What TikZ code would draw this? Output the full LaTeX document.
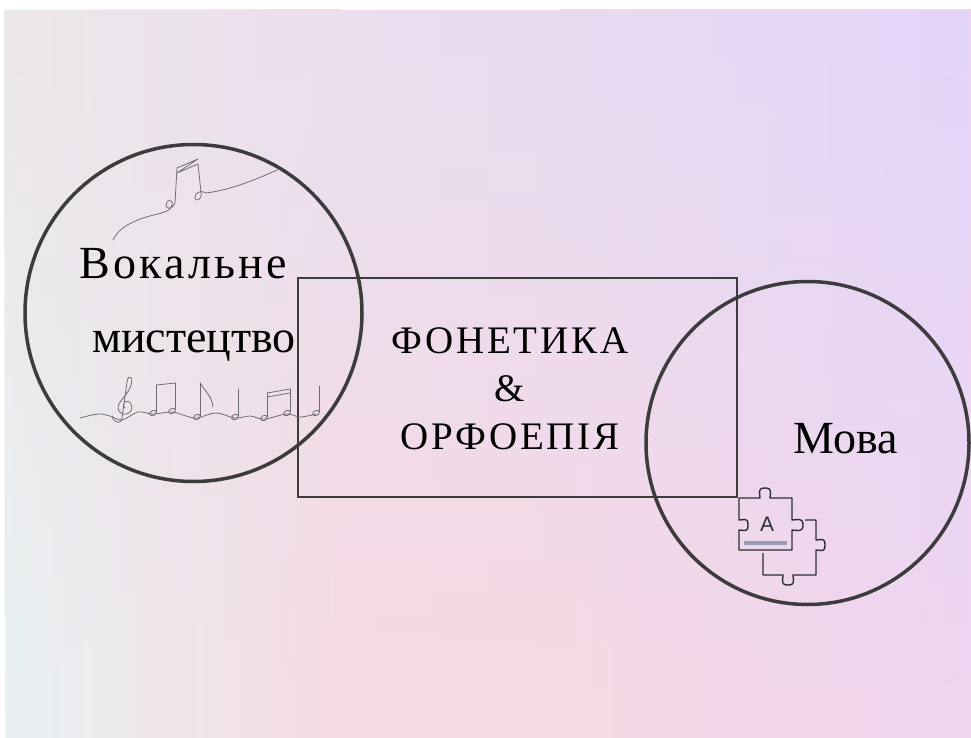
\documentclass[tikz,border=0pt]{standalone}
\usepackage{fontspec}
\setmainfont{Liberation Serif}
\newfontfamily\spacedserif[LetterSpace=7]{Liberation Serif}
\newfontfamily\iconfont{Liberation Sans}
\usetikzlibrary{positioning,fadings}

\definecolor{inkGray}{RGB}{60,60,60}
\definecolor{doodleGray}{RGB}{110,110,114}
\definecolor{puzzleInk}{RGB}{45,45,55}
\definecolor{barBlue}{RGB}{150,155,185}
\definecolor{bgTopLeft}{RGB}{237,230,233}
\definecolor{bgTopMid}{RGB}{236,220,240}
\definecolor{bgTopRight}{RGB}{227,213,250}
\definecolor{bgBottomLeft}{RGB}{232,242,243}
\definecolor{bgBottomMid}{RGB}{247,217,227}
\definecolor{bgBottomRight}{RGB}{240,213,240}

\tikzfading[name=fade down, top color=transparent!0, bottom color=transparent!100]

\begin{document}
\begin{tikzpicture}[x=1pt, y=-1pt,
  ring/.style={circle, draw=inkGray, line width=3.5pt, inner sep=0},
  frame/.style={rectangle, draw=inkGray, line width=2pt, inner sep=0},
  word/.style={text=black, inner sep=0, anchor=base},
  doodle/.style={draw=doodleGray, line width=0.8pt, line cap=round, line join=round},
  piece/.style={draw=puzzleInk, line width=1.4pt, line join=round}]

\useasboundingbox (0,0) rectangle (971,738);

% background: pink along the bottom, lavender fading in from the top
\fill[white] (0,0) rectangle (971,738);
\shade[left color=bgBottomLeft, right color=bgBottomMid] (5,10) rectangle (340,738);
\fill[bgBottomMid] (339.5,10) rectangle (560.5,738);
\shade[left color=bgBottomMid, right color=bgBottomRight] (560,10) rectangle (971,738);
\shade[left color=bgTopLeft, middle color=bgTopMid, right color=bgTopRight, path fading=fade down] (5,10) rectangle (971,738);

% the three areas
\node[ring, minimum size=337pt](vocalCircle) at (193.5,313) {};
\node[ring, minimum size=323pt](languageCircle) at (807.5,443) {};
\node[frame, minimum width=439pt, minimum height=219pt](centerBox) at (517.5,387.5) {};

% labels
\node[word, font=\spacedserif\fontsize{46}{50}\selectfont](vocalTop) at (183,278) {Вокальне};
\node[word, font=\fontsize{46}{50}\selectfont](vocalBottom) at (194,352) {мистецтво};

\node[word, font=\spacedserif\fontsize{39}{44}\selectfont](phonetics) at (510,353) {ФОНЕТИКА};
\node[word, font=\fontsize{39}{44}\selectfont](amp) at ([yshift=-48pt] phonetics.base) {\&};
\node[word, font=\spacedserif\fontsize{39}{44}\selectfont](orthoepy) at ([yshift=-48pt] amp.base) {ОРФОЕПІЯ};

\node[word, font=\fontsize{46}{50}\selectfont](language) at (846,453) {Мова};

% upper music line
\draw[doodle] (113,240) .. controls (120,225) and (140,218) .. (158,214)
  .. controls (166,212) and (171,210) .. (172,205)
  .. controls (174,199) and (166,199) .. (166,205)
  .. controls (166,210) and (173,209) .. (175,203)
  -- (177,168) -- (198,159) -- (177,173) -- (198,164) -- (201,192)
  .. controls (203,200) and (195,203) .. (195,197)
  .. controls (195,192) and (202,190) .. (206,193)
  .. controls (230,190) and (255,180) .. (277,170);

% lower music line
\draw[doodle] plot[smooth, tension=0.6] coordinates {(80,418) (98,414) (110,416) (122,420) (138,412) (153,414) (172,412) (186,416) (197,418) (216,413) (235,418) (250,416) (264,419) (287,414) (300,417) (316,414)};
\draw[doodle] (112,416) .. controls (114,424) and (122,424) .. (122,418)
  -- (127,382)
  .. controls (128,373) and (135,377) .. (130,388)
  .. controls (125,398) and (115,404) .. (119,411)
  .. controls (124,418) and (135,412) .. (131,404)
  .. controls (128,398) and (120,403) .. (125,408);
\foreach \hx/\hy/\top in {153/413/385, 172/411/383, 197/417/383, 235/417/389, 264/418/393, 287/413/389, 316/413/386}{
  \draw[doodle, rotate around={25:(\hx,\hy)}] (\hx,\hy) ellipse [x radius=3.5pt, y radius=2.5pt];
  \draw[doodle] (\hx+3.2,\hy-1) -- (\hx+3.2,\top);
}
\draw[doodle] (156.2,385) -- (175.2,383);
\draw[doodle] (200.2,383) .. controls (204,390) and (212,396) .. (213,407);
\draw[doodle] (267.2,393) -- (290.2,389);
\draw[doodle] (267.2,397) -- (290.2,393);

% puzzle icon
\draw[piece] (805,520) -- (816,520) -- (816,540)
  .. controls (821,540) and (825,537) .. (825,545)
  .. controls (825,553) and (821,550) .. (816,550) -- (816,575) -- (793,575)
  .. controls (793,580) and (796,585) .. (788,585)
  .. controls (780,585) and (783,580) .. (783,575) -- (763,575) -- (763,553);
\draw[piece] (739,498) -- (760,498)
  .. controls (760,493) and (757,488) .. (765,488)
  .. controls (773,488) and (770,493) .. (770,498) -- (792,498) -- (792,520)
  .. controls (797,520) and (803,517) .. (803,525)
  .. controls (803,533) and (797,530) .. (792,530) -- (792,550) -- (739,550) -- (739,530)
  .. controls (744,530) and (748,533) .. (748,525)
  .. controls (748,517) and (744,520) .. (739,520) -- cycle;
\node[text=puzzleInk, inner sep=0, font=\iconfont\fontsize{21}{24}\selectfont](letterA) at (767,524) {A};
\draw[barBlue, line width=4pt] (744,543) -- (787,543);

\end{tikzpicture}
\end{document}
